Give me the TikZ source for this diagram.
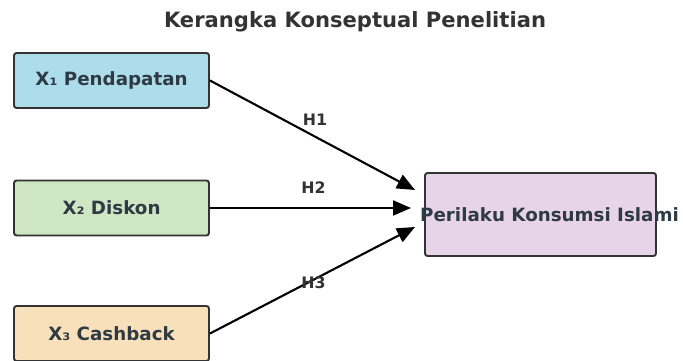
\documentclass[tikz,border=0pt]{standalone}
\usepackage{fontspec}
\setmainfont{DejaVu Sans}
\usetikzlibrary{positioning,arrows.meta}
\definecolor{txtdark}{HTML}{2E3A44}
\definecolor{boxblue}{HTML}{ADDCEB}
\definecolor{boxgreen}{HTML}{CFE6C4}
\definecolor{boxorange}{HTML}{F8E1BA}
\definecolor{boxpurple}{HTML}{E8D4E8}

\begin{document}
\begin{tikzpicture}[font=\bfseries,
  varbox/.style={draw=black!80, line width=1.1pt, rounded corners=1.5pt,
    minimum width=3.9cm, minimum height=1.1cm, text=txtdark,
    font=\fontsize{10.4}{12}\selectfont\bfseries},
  hlab/.style={font=\fontsize{9}{10}\selectfont\bfseries, text=black!80},
  arr/.style={-{Triangle[length=3.6mm,width=3mm]}, line width=1.2pt, black}]
  \useasboundingbox (0,0) rectangle (13.66,7.22);
  \node[font=\fontsize{12}{14}\selectfont\bfseries, text=black!80] (title) at (7.1,6.78) {Kerangka Konseptual Penelitian};
  % independent variables
  \node[varbox, fill=boxblue] (x1) at (2.23,5.61) {X₁ Pendapatan};
  \node[varbox, fill=boxgreen] (x2) at (2.23,3.06) {X₂ Diskon};
  \node[varbox, fill=boxorange] (x3) at (2.23,0.55) {X₃ Cashback};
  % dependent variable (label runs past the box)
  \node[varbox, fill=boxpurple, minimum width=4.62cm, minimum height=1.66cm] (y) at (10.81,2.93)
    {\makebox[0pt]{\hspace*{0.36cm}Perilaku Konsumsi Islami}};
  \coordinate (t1) at (8.3,3.42);
  \coordinate (t2) at (8.22,3.06);
  \coordinate (t3) at (8.3,2.68);
  \draw[arr] (x1.east) -- (t1);
  \draw[arr] (x2.east) -- (t2);
  \draw[arr] (x3.east) -- (t3);
  \node[hlab] (h1) at (6.3,4.82) {H1};
  \node[hlab] (h2) at (6.27,3.46) {H2};
  \node[hlab] (h3) at (6.27,1.56) {H3};
\end{tikzpicture}
\end{document}
